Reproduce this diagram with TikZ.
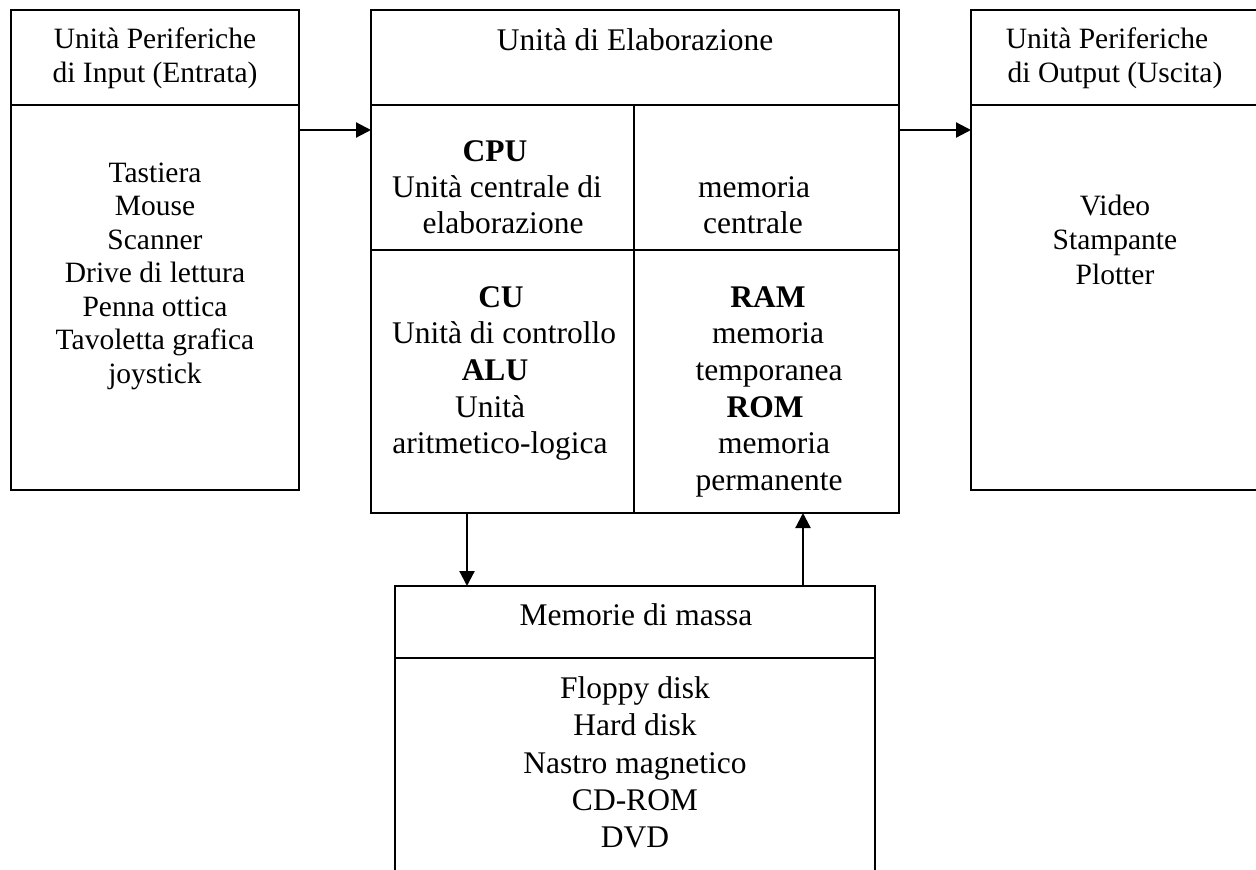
\documentclass[tikz,border=0pt]{standalone}
\usepackage{fontspec}
\setmainfont{Liberation Serif}
\usetikzlibrary{arrows.meta,calc}
\begin{document}
\begin{tikzpicture}[x=1pt,y=-1pt,
  box/.style={draw, line width=2.6pt, outer sep=0pt, inner sep=0pt},
  divline/.style={line width=2.4pt},
  arr/.style={line width=2.2pt, -{Triangle[length=15pt,width=15pt]}},
  st/.style={font=\fontsize{29.5}{34}\selectfont, anchor=base, inner sep=0pt},
  bt/.style={font=\fontsize{31.5}{36}\selectfont, anchor=base, inner sep=0pt}]
\useasboundingbox (0,0) rectangle (1256,870);
\clip (0,0) rectangle (1256,870);
\fill[white] (0,0) rectangle (1256,870);

% boxes
\node[box, minimum width=288pt, minimum height=480pt] (inbox) at (155,250) {};
\node[box, minimum width=528pt, minimum height=503pt] (midbox) at (635,261.5) {};
\node[box, minimum width=309pt, minimum height=480pt] (outbox) at (1125.5,250) {};
\node[box, minimum width=480pt, minimum height=314pt] (massbox) at (635,743) {};

% helper coordinates
\coordinate (yhead) at (0,105);
\coordinate (ymid) at (0,250);
\coordinate (ymass) at (0,658);
\coordinate (xsplit) at (634,0);
\coordinate (yarr) at (0,130);
\coordinate (xdown) at (467,0);
\coordinate (xup) at (803,0);

% dividers
\draw[divline] (inbox.west |- yhead) -- (inbox.east |- yhead);
\draw[divline] (midbox.west |- yhead) -- (midbox.east |- yhead);
\draw[divline] (outbox.west |- yhead) -- (outbox.east |- yhead);
\draw[divline] (midbox.west |- ymid) -- (midbox.east |- ymid);
\draw[divline] (xsplit |- yhead) -- (xsplit |- midbox.south);
\draw[divline] (massbox.west |- ymass) -- (massbox.east |- ymass);

% arrows
\draw[arr] (inbox.east |- yarr) -- (midbox.west |- yarr);
\draw[arr] (midbox.east |- yarr) -- (outbox.west |- yarr);
\draw[arr] (xdown |- midbox.south) -- (xdown |- massbox.north);
\draw[arr] (xup |- massbox.north) -- (xup |- midbox.south);

% input box texts
\node[st] (inh1) at (155,48) {Unità Periferiche};
\node[st] (inh2) at (155,82) {di Input (Entrata)};
\foreach \t/\y [count=\i] in {Tastiera/182, Mouse/215.5, Scanner/249, Drive di lettura/282.5, Penna ottica/316, Tavoletta grafica/349.5, joystick/383}
  \node[st] (in\i) at (155,\y) {\t};

% output box texts
\node[st] (outh1) at (1107,48) {Unità Periferiche};
\node[st] (outh2) at (1115,82) {di Output (Uscita)};
\foreach \t/\y [count=\i] in {Video/215, Stampante/249.5, Plotter/284}
  \node[st] (out\i) at (1115,\y) {\t};

% central unit texts
\node[bt] (midh) at (635,50) {Unità di Elaborazione};
\foreach \t/\x/\y [count=\i] in {\textbf{CPU}/495/161, Unità centrale di/497/197, elaborazione/503/233,
  \textbf{CU}/501/307, Unità di controllo/504/343, \textbf{ALU}/495/380, Unità/490/417, aritmetico-logica/500/453}
  \node[bt] (cl\i) at (\x,\y) {\t};
\foreach \t/\x/\y [count=\i] in {memoria/754/197, centrale/753/233,
  \textbf{RAM}/768/307, memoria/768/343, temporanea/769/380, \textbf{ROM}/765/417, memoria/774/453, permanente/769/490}
  \node[bt] (cr\i) at (\x,\y) {\t};

% mass storage texts
\node[bt] (massh) at (636,625) {Memorie di massa};
\foreach \t/\y [count=\i] in {Floppy disk/698, Hard disk/735, Nastro magnetico/773, CD-ROM/810, DVD/847}
  \node[bt] (ms\i) at (635,\y) {\t};
\end{tikzpicture}
\end{document}
